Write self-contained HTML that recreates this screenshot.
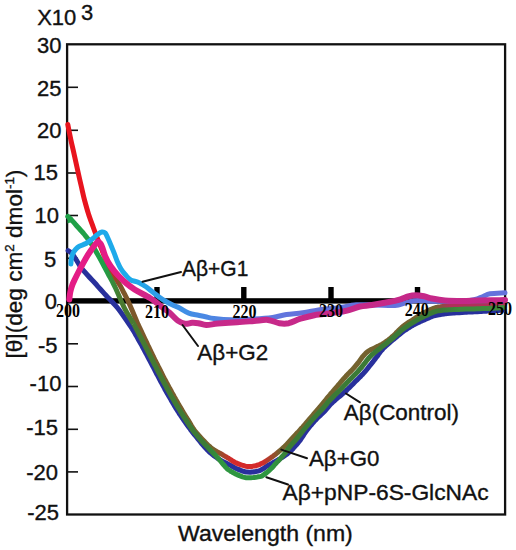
<!DOCTYPE html>
<html><head><meta charset="utf-8"><style>
html,body{margin:0;padding:0;background:#fff;}
svg{display:block;}
.yl{font-family:"Liberation Sans",sans-serif;font-size:22px;fill:#111;stroke:#111;stroke-width:0.35px;}
.xl{font-family:"Liberation Serif",serif;font-weight:bold;font-size:19.5px;fill:#000;}
.lab{font-family:"Liberation Sans",sans-serif;font-size:22px;fill:#111;stroke:#111;stroke-width:0.35px;}
</style></head><body>
<svg width="516" height="550" viewBox="0 0 516 550">
<defs>
<linearGradient id="gr" gradientUnits="userSpaceOnUse" x1="60" y1="0" x2="510" y2="0">
<stop offset="0.1022" stop-color="#e8141e"/><stop offset="0.1333" stop-color="#7e562a"/><stop offset="0.3422" stop-color="#74622e"/><stop offset="0.3822" stop-color="#d42a2a"/><stop offset="0.4489" stop-color="#d42a2a"/><stop offset="0.4889" stop-color="#74622e"/><stop offset="0.8333" stop-color="#74622e"/><stop offset="0.8667" stop-color="#b0305a"/>
</linearGradient>
<linearGradient id="gg" gradientUnits="userSpaceOnUse" x1="60" y1="0" x2="510" y2="0">
<stop offset="0.0978" stop-color="#1fa047"/><stop offset="0.1333" stop-color="#4a7a30"/><stop offset="0.3222" stop-color="#3b7b36"/><stop offset="0.3600" stop-color="#2e9640"/><stop offset="0.4711" stop-color="#2e9640"/><stop offset="0.5111" stop-color="#3b7b36"/><stop offset="0.8444" stop-color="#3b7b36"/><stop offset="0.8889" stop-color="#3f8a3c"/>
</linearGradient>
<linearGradient id="gc" gradientUnits="userSpaceOnUse" x1="60" y1="0" x2="510" y2="0">
<stop offset="0.1667" stop-color="#1eaaea"/><stop offset="0.2556" stop-color="#3c92e6"/><stop offset="0.4000" stop-color="#5a7ce0"/><stop offset="0.5333" stop-color="#6472dc"/><stop offset="0.9889" stop-color="#6472dc"/>
</linearGradient>
<linearGradient id="gm" gradientUnits="userSpaceOnUse" x1="60" y1="0" x2="510" y2="0">
<stop offset="0.1333" stop-color="#e41c86"/><stop offset="0.2222" stop-color="#c82a8a"/><stop offset="0.9889" stop-color="#c42888"/>
</linearGradient>
</defs>
<rect width="516" height="550" fill="#fff"/>
<text x="37.2" y="25" class="lab">X10</text>
<text x="81" y="19.5" class="lab">3</text>
<text x="61.4" y="52.7" text-anchor="end" class="yl">30</text>
<text x="61.4" y="95.6" text-anchor="end" class="yl">25</text>
<text x="61.4" y="138.1" text-anchor="end" class="yl">20</text>
<text x="58" y="180.1" text-anchor="end" class="yl">15</text>
<text x="59.1" y="223.4" text-anchor="end" class="yl">10</text>
<text x="56.2" y="266.8" text-anchor="end" class="yl">5</text>
<text x="57" y="309.3" text-anchor="end" class="yl">0</text>
<text x="57.5" y="352.6" text-anchor="end" class="yl">-5</text>
<text x="61.4" y="391.1" text-anchor="end" class="yl">-10</text>
<text x="58" y="434.8" text-anchor="end" class="yl">-15</text>
<text x="58" y="479.6" text-anchor="end" class="yl">-20</text>
<text x="59" y="519.5" text-anchor="end" class="yl">-25</text>

<rect x="67.1" y="44.3" width="438" height="470.2" fill="none" stroke="#111" stroke-width="2.3"/>
<line x1="67" y1="87.3" x2="78" y2="87.3" stroke="#111" stroke-width="1.6"/>
<line x1="67" y1="130.3" x2="78" y2="130.3" stroke="#111" stroke-width="1.6"/>
<line x1="67" y1="173.0" x2="78" y2="173.0" stroke="#111" stroke-width="1.6"/>
<line x1="67" y1="215.5" x2="78" y2="215.5" stroke="#111" stroke-width="1.6"/>
<line x1="67" y1="258.3" x2="78" y2="258.3" stroke="#111" stroke-width="1.6"/>
<line x1="67" y1="343.8" x2="78" y2="343.8" stroke="#111" stroke-width="1.6"/>
<line x1="67" y1="386.5" x2="78" y2="386.5" stroke="#111" stroke-width="1.6"/>
<line x1="67" y1="429.3" x2="78" y2="429.3" stroke="#111" stroke-width="1.6"/>
<line x1="67" y1="471.9" x2="78" y2="471.9" stroke="#111" stroke-width="1.6"/>

<rect x="67" y="298.2" width="438" height="5.4" fill="#000"/>
<rect x="154.3" y="287" width="5.4" height="12" fill="#000"/>
<rect x="241.1" y="287" width="5.4" height="12" fill="#000"/>
<rect x="328.3" y="287" width="5.4" height="12" fill="#000"/>
<rect x="414.8" y="287" width="5.4" height="12" fill="#000"/>

<path d="M68.1,250.6 C68.7,251.0 70.1,251.4 71.5,253.0 C72.9,254.6 74.7,257.5 76.3,259.9 C77.9,262.3 79.0,264.9 80.9,267.5 C82.8,270.1 85.6,272.9 87.9,275.5 C90.2,278.1 92.9,280.8 94.9,283.0 C96.9,285.2 98.1,286.7 100.0,288.8 C101.9,290.9 104.2,293.4 106.3,295.7 C108.4,298.0 110.6,300.2 112.7,302.5 C114.8,304.8 116.1,305.8 119.0,309.7 C121.9,313.6 128.3,322.9 130.4,326.0 C132.5,329.0 131.1,327.0 131.5,327.8 C131.9,328.5 132.5,329.5 133.1,330.3 C133.6,331.2 134.1,332.0 134.6,332.9 C135.1,333.8 135.6,334.6 136.1,335.5 C136.6,336.3 137.1,337.2 137.6,338.1 C138.1,338.9 138.6,339.8 139.0,340.7 C139.5,341.6 140.0,342.4 140.5,343.3 C141.0,344.2 141.5,345.1 142.0,345.9 C142.4,346.8 142.9,347.7 143.4,348.6 C143.9,349.4 144.3,350.3 144.8,351.2 C145.3,352.1 145.8,353.0 146.2,353.8 C146.7,354.7 147.2,355.6 147.6,356.5 C148.1,357.4 148.6,358.3 149.0,359.2 C149.5,360.0 150.0,360.9 150.4,361.8 C150.9,362.7 151.3,363.6 151.8,364.5 C152.3,365.4 152.7,366.2 153.2,367.1 C153.7,368.0 154.1,368.9 154.6,369.8 C155.0,370.7 155.5,371.6 156.0,372.5 C156.4,373.4 156.9,374.2 157.4,375.1 C157.8,376.0 158.3,376.9 158.8,377.8 C159.2,378.7 159.7,379.6 160.2,380.4 C160.6,381.3 161.1,382.2 161.6,383.1 C162.1,384.0 162.5,384.9 163.0,385.8 C163.5,386.6 164.0,387.5 164.5,388.4 C164.9,389.3 165.4,390.2 165.9,391.0 C166.4,391.9 166.9,392.8 167.4,393.7 C167.9,394.5 168.4,395.4 168.9,396.3 C169.4,397.2 169.9,398.0 170.4,398.9 C170.9,399.8 171.4,400.6 171.9,401.5 C172.4,402.4 172.9,403.2 173.4,404.1 C173.9,405.0 174.5,405.8 175.0,406.7 C175.5,407.5 176.0,408.4 176.6,409.2 C177.1,410.1 177.6,410.9 178.2,411.8 C178.7,412.6 179.3,413.5 179.8,414.3 C180.4,415.2 180.9,416.0 181.5,416.8 C182.0,417.7 182.6,418.5 183.2,419.3 C183.7,420.2 184.3,421.0 184.9,421.8 C185.4,422.6 186.0,423.5 186.6,424.3 C187.2,425.1 187.8,425.9 188.4,426.7 C189.0,427.5 189.6,428.3 190.2,429.1 C190.8,430.0 191.4,430.8 192.0,431.6 C192.7,432.4 193.3,433.2 193.9,434.0 C194.5,434.7 195.2,435.5 195.8,436.3 C196.4,437.1 197.1,437.9 197.7,438.7 C198.3,439.5 199.0,440.2 199.6,441.0 C200.2,441.8 200.9,442.6 201.5,443.4 C202.2,444.1 202.8,444.9 203.5,445.7 C204.2,446.4 204.8,447.2 205.5,447.9 C206.2,448.7 206.9,449.5 207.6,450.2 C208.3,451.0 209.1,451.7 209.8,452.4 C210.6,453.1 211.4,453.7 212.2,454.4 C212.9,455.0 213.8,455.6 214.6,456.2 C215.4,456.8 216.2,457.4 217.1,457.9 C217.9,458.5 218.8,459.0 219.6,459.6 C220.5,460.1 221.3,460.6 222.2,461.1 C223.1,461.6 224.0,462.1 224.9,462.5 C225.8,463.0 226.7,463.5 227.6,463.9 C228.5,464.4 229.5,464.8 230.3,465.3 C231.2,465.7 232.0,466.3 232.9,466.8 C233.8,467.3 234.7,467.7 235.6,468.2 C236.5,468.6 237.4,469.0 238.3,469.4 C239.2,469.8 240.2,470.2 241.1,470.5 C242.0,470.9 243.0,471.2 243.9,471.5 C244.9,471.7 245.9,472.0 246.9,472.1 C247.9,472.2 248.9,472.2 249.9,472.2 C250.9,472.2 251.9,472.0 252.9,471.9 C253.9,471.8 254.8,471.6 255.8,471.5 C256.8,471.3 257.9,471.2 258.8,470.9 C259.8,470.6 260.7,470.1 261.5,469.6 C262.4,469.1 263.3,468.6 264.1,468.1 C265.0,467.5 265.8,466.9 266.6,466.4 C267.4,465.8 268.3,465.3 269.2,464.8 C270.0,464.3 271.0,463.9 271.9,463.4 C272.8,462.9 273.7,462.4 274.5,461.9 C275.4,461.4 276.3,460.9 277.2,460.4 C278.1,459.9 279.0,459.4 279.8,458.9 C280.7,458.3 281.6,457.8 282.4,457.2 C283.3,456.7 284.2,456.1 285.0,455.5 C285.9,454.9 286.8,454.3 287.6,453.7 C288.4,453.0 289.2,452.3 289.9,451.6 C290.7,450.9 291.5,450.2 292.2,449.5 C292.9,448.8 293.5,448.0 294.2,447.2 C294.9,446.5 295.5,445.7 296.2,445.0 C296.9,444.2 297.6,443.5 298.2,442.7 C298.9,441.9 299.6,441.1 300.2,440.3 C300.8,439.4 301.3,438.6 301.9,437.7 C302.4,436.9 302.9,436.0 303.5,435.2 C304.0,434.3 304.6,433.5 305.1,432.7 C305.7,431.9 306.3,431.1 306.9,430.3 C307.5,429.5 308.1,428.7 308.7,427.9 C309.3,427.2 310.0,426.4 310.6,425.6 C311.3,424.9 311.9,424.1 312.5,423.4 C313.2,422.6 313.8,421.9 314.5,421.1 C315.2,420.4 315.9,419.7 316.5,419.0 C317.2,418.3 317.9,417.5 318.6,416.9 C319.3,416.2 320.0,415.5 320.8,414.9 C321.5,414.2 322.3,413.6 323.1,412.8 C323.8,412.1 324.6,411.4 325.2,410.6 C325.9,409.8 326.6,409.0 327.2,408.2 C327.9,407.5 328.5,406.7 329.1,405.9 C329.8,405.2 330.4,404.5 331.1,403.8 C331.8,403.1 332.5,402.5 333.2,401.8 C334.0,401.2 334.7,400.5 335.4,399.9 C336.2,399.2 336.9,398.6 337.7,397.9 C338.4,397.3 339.2,396.7 340.0,396.0 C340.7,395.4 341.5,394.8 342.3,394.1 C343.1,393.4 343.9,392.8 344.6,392.1 C345.4,391.4 346.1,390.7 346.9,390.0 C347.6,389.3 348.3,388.6 349.1,387.9 C349.8,387.2 350.5,386.5 351.2,385.8 C351.9,385.1 352.6,384.4 353.3,383.7 C354.0,383.0 354.6,382.3 355.3,381.6 C356.0,380.9 356.7,380.2 357.5,379.5 C358.2,378.8 358.9,378.1 359.7,377.3 C360.4,376.6 361.1,375.8 361.8,375.1 C362.5,374.3 363.2,373.6 363.9,372.8 C364.6,372.0 365.4,371.2 366.0,370.4 C366.7,369.7 367.4,368.8 368.0,368.0 C368.7,367.2 369.3,366.4 369.9,365.6 C370.5,364.9 371.1,364.1 371.7,363.4 C372.3,362.6 372.9,361.9 373.4,361.2 C374.0,360.5 374.6,359.7 375.1,359.0 C375.7,358.3 376.3,357.6 376.8,356.8 C377.4,356.1 377.9,355.3 378.4,354.6 C379.0,353.8 379.5,353.0 380.1,352.2 C380.7,351.5 381.3,350.7 382.0,350.0 C382.7,349.2 383.3,348.4 384.1,347.7 C384.8,346.9 385.6,346.3 386.3,345.6 C387.1,344.9 387.9,344.2 388.6,343.6 C389.4,342.9 390.2,342.3 390.9,341.6 C391.7,341.0 392.5,340.3 393.2,339.7 C394.0,339.0 394.8,338.4 395.6,337.7 C396.4,337.1 397.1,336.4 397.9,335.8 C398.7,335.2 399.4,334.5 400.2,333.9 C400.9,333.2 401.7,332.6 402.5,332.0 C403.2,331.4 404.0,330.9 404.8,330.3 C405.7,329.8 406.5,329.3 407.3,328.7 C408.1,328.2 408.9,327.7 409.8,327.2 C410.6,326.7 411.5,326.2 412.3,325.7 C413.2,325.2 414.0,324.7 414.9,324.2 C415.8,323.8 416.6,323.3 417.5,322.9 C418.4,322.4 419.3,322.0 420.2,321.6 C421.0,321.2 421.9,320.8 422.8,320.4 C423.7,320.0 424.6,319.6 425.5,319.3 C426.4,318.9 427.4,318.5 428.3,318.2 C429.2,317.8 430.1,317.3 431.0,317.0 C431.8,316.6 432.7,316.3 433.6,316.0 C434.5,315.7 435.4,315.4 436.2,315.2 C437.1,315.0 438.0,314.8 438.9,314.7 C439.7,314.5 440.6,314.4 441.6,314.2 C442.5,314.1 443.4,314.0 444.4,313.9 C445.3,313.7 446.3,313.6 447.3,313.5 C448.2,313.4 449.2,313.3 450.2,313.3 C451.2,313.2 452.2,313.1 453.2,313.0 C454.1,313.0 455.1,312.9 456.1,312.8 C457.1,312.8 458.1,312.7 459.1,312.7 C460.1,312.6 461.1,312.5 462.1,312.5 C463.1,312.4 464.1,312.3 465.1,312.3 C466.1,312.2 467.1,312.2 468.1,312.1 C469.1,312.1 470.1,312.0 471.1,312.0 C472.1,311.9 473.1,311.9 474.1,311.8 C475.1,311.8 476.1,311.7 477.1,311.7 C478.1,311.6 479.1,311.5 480.1,311.5 C481.1,311.4 482.1,311.4 483.1,311.3 C484.1,311.3 485.1,311.2 486.1,311.2 C487.1,311.1 488.1,311.1 489.1,311.0 C490.1,311.0 491.1,310.9 492.1,310.9 C493.1,310.8 494.1,310.8 495.1,310.7 C496.1,310.6 497.1,310.6 498.1,310.5 C499.1,310.4 500.3,310.3 501.1,310.3 C502.0,310.2 502.9,310.1 503.3,310.1" fill="none" stroke="#28309c" stroke-width="5.0" stroke-linecap="round" stroke-linejoin="round" />
<path d="M67.8,124.5 C68.3,127.1 69.8,134.9 70.9,140.0 C72.0,145.1 73.2,150.0 74.3,155.0 C75.4,160.0 76.5,165.0 77.6,170.0 C78.7,175.0 79.8,180.0 81.0,185.0 C82.2,190.0 83.2,195.2 84.5,200.0 C85.8,204.8 87.0,209.3 88.5,214.0 C90.0,218.7 91.8,223.3 93.5,228.0 C95.2,232.7 97.1,237.7 98.8,242.0 C100.5,246.3 101.9,250.1 103.5,254.0 C105.1,257.9 106.8,261.8 108.5,265.5 C110.2,269.2 112.1,272.8 114.0,276.0 C115.9,279.2 118.1,282.2 119.8,285.0 C121.5,287.8 122.6,290.3 124.0,293.0 C125.4,295.7 126.7,298.2 128.0,301.0 C129.3,303.8 130.5,306.4 132.0,310.0 C133.5,313.6 136.1,319.9 137.1,322.3 C138.1,324.7 137.7,323.5 138.0,324.3 C138.4,325.0 138.9,326.1 139.3,327.0 C139.7,327.9 140.2,328.8 140.6,329.7 C141.0,330.6 141.5,331.6 141.9,332.5 C142.3,333.4 142.7,334.3 143.2,335.2 C143.6,336.1 144.0,337.0 144.4,337.9 C144.9,338.8 145.3,339.7 145.7,340.6 C146.1,341.5 146.6,342.4 147.0,343.3 C147.4,344.3 147.9,345.2 148.3,346.1 C148.7,347.0 149.2,347.9 149.6,348.8 C150.0,349.7 150.5,350.6 150.9,351.5 C151.3,352.4 151.8,353.3 152.2,354.2 C152.6,355.1 153.1,356.0 153.5,356.9 C154.0,357.8 154.4,358.7 154.8,359.6 C155.3,360.5 155.7,361.4 156.2,362.2 C156.6,363.1 157.1,364.0 157.5,364.9 C158.0,365.8 158.4,366.7 158.9,367.6 C159.3,368.5 159.8,369.4 160.2,370.3 C160.7,371.2 161.1,372.1 161.6,372.9 C162.0,373.8 162.5,374.7 162.9,375.6 C163.4,376.5 163.9,377.4 164.3,378.3 C164.8,379.1 165.2,380.0 165.7,380.9 C166.2,381.8 166.6,382.7 167.1,383.6 C167.6,384.4 168.0,385.3 168.5,386.2 C169.0,387.1 169.5,387.9 169.9,388.8 C170.4,389.7 170.9,390.6 171.4,391.4 C171.8,392.3 172.3,393.2 172.8,394.1 C173.3,394.9 173.8,395.8 174.3,396.7 C174.8,397.5 175.2,398.4 175.7,399.3 C176.2,400.1 176.7,401.0 177.2,401.9 C177.7,402.7 178.2,403.6 178.7,404.4 C179.2,405.3 179.7,406.2 180.2,407.0 C180.7,407.9 181.2,408.7 181.7,409.6 C182.2,410.4 182.8,411.3 183.3,412.2 C183.8,413.0 184.3,413.9 184.8,414.7 C185.3,415.6 185.8,416.4 186.4,417.3 C186.9,418.1 187.4,419.0 187.9,419.8 C188.5,420.6 189.0,421.5 189.5,422.3 C190.0,423.2 190.5,424.1 191.0,424.9 C191.5,425.8 192.0,426.6 192.6,427.5 C193.1,428.3 193.7,429.1 194.2,429.9 C194.8,430.7 195.4,431.5 196.1,432.2 C196.7,433.0 197.4,433.7 198.0,434.5 C198.7,435.2 199.3,436.0 200.0,436.7 C200.7,437.4 201.3,438.2 202.0,438.9 C202.7,439.6 203.4,440.3 204.1,441.1 C204.8,441.8 205.4,442.5 206.1,443.2 C206.8,443.9 207.5,444.6 208.2,445.3 C208.9,445.9 209.7,446.6 210.4,447.2 C211.2,447.8 211.9,448.4 212.7,449.0 C213.5,449.6 214.4,450.0 215.2,450.6 C216.1,451.1 216.9,451.6 217.8,452.1 C218.6,452.6 219.5,453.0 220.4,453.5 C221.3,454.0 222.2,454.5 223.0,455.1 C223.9,455.6 224.8,456.1 225.7,456.6 C226.5,457.1 227.4,457.6 228.2,458.1 C229.0,458.7 229.8,459.2 230.6,459.7 C231.4,460.2 232.2,460.8 232.9,461.2 C233.7,461.7 234.5,462.1 235.3,462.5 C236.2,462.9 237.0,463.3 237.8,463.6 C238.7,464.0 239.5,464.3 240.4,464.6 C241.2,464.9 242.1,465.2 242.9,465.4 C243.7,465.7 244.5,465.9 245.3,466.1 C246.1,466.3 246.8,466.4 247.5,466.5 C248.3,466.5 249.0,466.6 249.8,466.5 C250.5,466.5 251.3,466.5 252.1,466.4 C252.9,466.3 253.7,466.1 254.5,465.9 C255.3,465.8 256.1,465.6 256.9,465.3 C257.7,465.1 258.4,464.9 259.2,464.6 C259.9,464.3 260.7,464.0 261.5,463.6 C262.3,463.2 263.1,462.8 263.9,462.3 C264.7,461.8 265.5,461.3 266.3,460.8 C267.1,460.3 267.9,459.7 268.8,459.2 C269.6,458.7 270.4,458.1 271.2,457.5 C272.0,456.9 272.8,456.4 273.5,455.8 C274.3,455.2 275.1,454.6 275.9,454.0 C276.6,453.4 277.4,452.8 278.1,452.2 C278.9,451.6 279.6,450.9 280.3,450.3 C281.0,449.7 281.7,449.1 282.4,448.4 C283.2,447.8 283.9,447.2 284.6,446.5 C285.2,445.8 285.9,445.1 286.6,444.4 C287.3,443.7 288.0,443.0 288.6,442.2 C289.3,441.5 290.0,440.8 290.6,440.0 C291.3,439.3 292.0,438.6 292.6,437.9 C293.3,437.1 293.9,436.4 294.6,435.7 C295.3,435.0 295.9,434.3 296.6,433.6 C297.3,432.9 298.0,432.1 298.7,431.4 C299.3,430.6 300.0,429.9 300.7,429.1 C301.4,428.4 302.1,427.6 302.8,426.9 C303.5,426.1 304.1,425.4 304.8,424.6 C305.4,423.9 306.1,423.1 306.7,422.3 C307.4,421.6 308.0,420.8 308.7,420.0 C309.3,419.3 310.0,418.5 310.7,417.7 C311.3,417.0 312.0,416.2 312.6,415.4 C313.3,414.7 314.0,413.9 314.6,413.1 C315.3,412.4 316.0,411.6 316.6,410.8 C317.3,410.1 317.9,409.3 318.6,408.6 C319.2,407.8 319.8,407.1 320.4,406.4 C321.1,405.6 321.7,404.9 322.3,404.1 C322.9,403.4 323.6,402.6 324.2,401.8 C324.8,401.0 325.5,400.2 326.1,399.4 C326.7,398.6 327.4,397.8 328.1,397.0 C328.7,396.2 329.4,395.4 330.1,394.6 C330.7,393.8 331.4,393.1 332.1,392.3 C332.7,391.5 333.4,390.8 334.0,390.0 C334.7,389.3 335.3,388.5 336.0,387.8 C336.6,387.0 337.3,386.3 337.9,385.5 C338.5,384.8 339.2,384.0 339.8,383.3 C340.4,382.5 341.1,381.8 341.7,381.0 C342.4,380.2 343.0,379.5 343.7,378.7 C344.3,377.9 345.0,377.1 345.7,376.4 C346.4,375.6 347.1,374.9 347.8,374.2 C348.6,373.5 349.3,372.8 350.0,372.1 C350.7,371.4 351.3,370.7 352.0,370.0 C352.7,369.3 353.3,368.6 353.9,367.9 C354.6,367.2 355.2,366.4 355.8,365.7 C356.4,365.0 357.0,364.2 357.6,363.5 C358.2,362.7 358.8,362.0 359.4,361.2 C359.9,360.4 360.5,359.6 361.1,358.8 C361.7,358.0 362.3,357.1 362.9,356.3 C363.6,355.5 364.3,354.7 365.1,353.9 C365.8,353.1 366.6,352.4 367.5,351.7 C368.3,351.1 369.3,350.5 370.3,350.0 C371.3,349.4 372.4,349.0 373.4,348.5 C374.3,348.0 375.3,347.6 376.3,347.1 C377.2,346.6 378.2,346.2 379.1,345.8 C380.0,345.3 380.9,344.9 381.8,344.4 C382.6,343.9 383.5,343.4 384.3,342.8 C385.1,342.3 385.9,341.7 386.7,341.1 C387.5,340.5 388.3,339.9 389.0,339.3 C389.8,338.7 390.6,338.1 391.3,337.4 C392.1,336.8 392.8,336.1 393.6,335.5 C394.3,334.8 395.0,334.1 395.7,333.4 C396.4,332.7 397.1,331.9 397.8,331.2 C398.5,330.5 399.3,329.8 400.0,329.1 C400.8,328.4 401.5,327.7 402.3,327.0 C403.1,326.4 403.9,325.7 404.7,325.1 C405.6,324.5 406.4,323.9 407.2,323.3 C408.1,322.7 408.9,322.2 409.8,321.6 C410.6,321.1 411.5,320.5 412.3,320.0 C413.2,319.4 414.0,318.8 414.8,318.3 C415.7,317.7 416.6,317.1 417.4,316.6 C418.3,316.0 419.2,315.5 420.1,315.0 C421.0,314.5 421.8,313.9 422.7,313.4 C423.6,313.0 424.5,312.5 425.4,312.0 C426.4,311.6 427.3,311.1 428.2,310.7 C429.1,310.2 430.1,309.8 431.1,309.3 C432.1,308.9 433.1,308.5 434.1,308.1 C435.1,307.8 436.2,307.4 437.3,307.2 C438.3,306.9 439.4,306.8 440.5,306.7 C441.6,306.5 442.6,306.5 443.7,306.4 C444.7,306.4 445.7,306.3 446.8,306.3 C447.8,306.3 448.8,306.2 449.8,306.2 C450.8,306.2 451.8,306.2 452.8,306.1 C453.9,306.1 454.9,306.1 455.9,306.1 C456.9,306.1 457.9,306.1 458.9,306.1 C459.9,306.0 460.9,306.0 461.9,306.0 C462.9,306.0 463.9,306.0 464.9,306.0 C465.9,306.0 466.9,306.0 467.9,306.0 C468.9,306.0 469.9,306.0 470.9,306.0 C471.9,306.0 472.9,306.0 473.9,306.0 C474.9,306.0 475.9,306.0 476.9,306.0 C477.9,306.0 478.9,306.0 479.9,306.0 C480.9,306.0 481.9,306.0 482.9,305.9 C483.9,305.9 484.9,305.9 485.9,305.8 C486.9,305.8 487.9,305.8 488.9,305.7 C489.9,305.7 490.9,305.7 491.9,305.6 C492.8,305.6 493.8,305.5 494.8,305.5 C495.8,305.5 496.8,305.4 497.8,305.4 C498.8,305.3 500.0,305.3 500.8,305.2 C501.7,305.2 502.6,305.1 502.9,305.1" fill="none" stroke="url(#gr)" stroke-width="5.0" stroke-linecap="round" stroke-linejoin="round" />
<path d="M67.8,216.5 C68.5,217.2 70.6,219.1 72.0,220.5 C73.4,221.9 74.7,223.5 76.0,225.0 C77.3,226.5 78.7,228.0 80.0,229.5 C81.3,231.0 82.7,232.4 84.0,234.0 C85.3,235.6 86.7,237.2 88.0,239.0 C89.3,240.8 90.7,242.9 92.0,245.0 C93.3,247.1 94.7,249.2 96.0,251.5 C97.3,253.8 98.7,256.1 100.0,258.5 C101.3,260.9 102.7,263.5 104.0,266.0 C105.3,268.5 106.7,271.0 108.0,273.5 C109.3,276.0 110.8,278.6 112.0,281.0 C113.2,283.4 114.3,285.5 115.5,288.0 C116.7,290.5 117.8,293.3 119.0,296.0 C120.2,298.7 121.3,301.5 122.5,304.0 C123.7,306.5 124.1,307.6 126.0,311.0 C127.9,314.4 132.3,321.6 133.8,324.1 C135.2,326.6 134.4,325.3 134.8,326.0 C135.2,326.8 135.7,327.8 136.2,328.7 C136.7,329.5 137.1,330.4 137.6,331.3 C138.1,332.2 138.5,333.1 139.0,334.0 C139.4,334.9 139.9,335.7 140.4,336.6 C140.8,337.5 141.3,338.4 141.7,339.3 C142.2,340.2 142.7,341.1 143.1,342.0 C143.6,342.9 144.0,343.7 144.5,344.6 C144.9,345.5 145.4,346.4 145.8,347.3 C146.3,348.2 146.8,349.1 147.2,350.0 C147.7,350.9 148.1,351.8 148.6,352.7 C149.0,353.5 149.5,354.4 149.9,355.3 C150.4,356.2 150.8,357.1 151.3,358.0 C151.7,358.9 152.2,359.8 152.6,360.7 C153.1,361.6 153.5,362.5 154.0,363.4 C154.4,364.3 154.9,365.1 155.4,366.0 C155.8,366.9 156.3,367.8 156.7,368.7 C157.2,369.6 157.6,370.5 158.1,371.4 C158.5,372.3 159.0,373.1 159.5,374.0 C159.9,374.9 160.4,375.8 160.9,376.7 C161.3,377.6 161.8,378.5 162.2,379.4 C162.7,380.2 163.2,381.1 163.6,382.0 C164.1,382.9 164.6,383.8 165.1,384.7 C165.5,385.5 166.0,386.4 166.5,387.3 C167.0,388.2 167.4,389.1 167.9,389.9 C168.4,390.8 168.9,391.7 169.4,392.6 C169.9,393.4 170.3,394.3 170.8,395.2 C171.3,396.0 171.8,396.9 172.3,397.8 C172.8,398.7 173.3,399.5 173.8,400.4 C174.3,401.2 174.8,402.1 175.3,403.0 C175.8,403.8 176.3,404.7 176.8,405.6 C177.4,406.4 177.9,407.3 178.4,408.1 C178.9,409.0 179.4,409.8 180.0,410.7 C180.5,411.5 181.0,412.4 181.5,413.2 C182.1,414.1 182.6,414.9 183.1,415.8 C183.7,416.6 184.2,417.5 184.8,418.3 C185.3,419.1 185.9,420.0 186.4,420.8 C187.0,421.6 187.5,422.5 188.1,423.3 C188.6,424.1 189.2,425.0 189.7,425.8 C190.3,426.7 190.8,427.5 191.4,428.3 C192.0,429.1 192.5,429.9 193.1,430.7 C193.7,431.5 194.4,432.3 195.0,433.1 C195.6,433.9 196.3,434.6 196.9,435.4 C197.5,436.2 198.2,436.9 198.8,437.7 C199.5,438.5 200.2,439.2 200.8,440.0 C201.5,440.7 202.1,441.5 202.8,442.2 C203.5,443.0 204.1,443.7 204.8,444.4 C205.5,445.2 206.2,445.9 206.9,446.6 C207.6,447.3 208.3,448.0 209.0,448.7 C209.7,449.4 210.4,450.1 211.1,450.9 C211.8,451.6 212.5,452.3 213.2,453.0 C213.9,453.8 214.6,454.5 215.3,455.2 C216.0,456.0 216.7,456.7 217.4,457.5 C218.1,458.2 218.8,459.0 219.4,459.8 C220.1,460.6 220.7,461.3 221.4,462.1 C222.1,462.9 222.7,463.7 223.4,464.5 C224.1,465.3 224.7,466.1 225.4,466.9 C226.2,467.7 226.9,468.6 227.7,469.3 C228.6,470.0 229.6,470.5 230.5,471.1 C231.4,471.7 232.4,472.2 233.3,472.8 C234.3,473.3 235.2,473.8 236.2,474.3 C237.2,474.8 238.2,475.2 239.3,475.6 C240.3,476.1 241.4,476.5 242.6,476.9 C243.7,477.2 245.0,477.5 246.2,477.7 C247.4,477.9 248.7,477.9 250.0,477.8 C251.2,477.8 252.4,477.6 253.6,477.5 C254.8,477.3 255.9,477.1 257.1,477.0 C258.3,476.8 259.6,476.9 260.8,476.5 C261.9,476.1 262.9,475.3 263.9,474.6 C264.9,473.9 265.9,473.2 266.8,472.5 C267.7,471.8 268.5,471.1 269.3,470.4 C270.1,469.7 270.9,469.0 271.6,468.2 C272.4,467.5 273.0,466.6 273.7,465.9 C274.4,465.1 275.1,464.3 275.8,463.6 C276.5,462.8 277.2,462.0 277.9,461.3 C278.6,460.5 279.3,459.8 280.0,459.0 C280.6,458.2 281.3,457.5 282.0,456.7 C282.7,455.9 283.3,455.1 284.0,454.4 C284.7,453.6 285.3,452.8 285.9,452.0 C286.6,451.2 287.2,450.4 287.8,449.5 C288.3,448.7 288.9,447.9 289.5,447.1 C290.1,446.3 290.8,445.5 291.4,444.7 C292.1,444.0 292.8,443.3 293.4,442.5 C294.1,441.8 294.8,441.0 295.4,440.3 C296.1,439.5 296.7,438.8 297.4,438.0 C298.0,437.2 298.6,436.4 299.2,435.6 C299.8,434.9 300.5,434.1 301.1,433.3 C301.7,432.5 302.3,431.7 302.9,430.9 C303.6,430.1 304.2,429.4 304.8,428.6 C305.5,427.8 306.1,427.1 306.7,426.3 C307.4,425.5 308.0,424.8 308.7,424.0 C309.3,423.2 310.0,422.5 310.6,421.7 C311.3,420.9 311.9,420.2 312.6,419.4 C313.2,418.7 313.9,417.9 314.6,417.2 C315.3,416.5 315.9,415.7 316.6,415.0 C317.3,414.3 318.0,413.6 318.7,412.8 C319.4,412.1 320.1,411.4 320.8,410.7 C321.5,410.0 322.2,409.2 322.8,408.5 C323.5,407.7 324.1,407.0 324.8,406.2 C325.4,405.4 326.0,404.6 326.7,403.9 C327.3,403.1 327.9,402.3 328.6,401.6 C329.3,400.8 330.0,400.1 330.6,399.4 C331.3,398.7 332.0,398.0 332.8,397.3 C333.5,396.5 334.2,395.8 334.9,395.1 C335.6,394.4 336.3,393.7 337.0,393.0 C337.7,392.3 338.4,391.6 339.1,390.9 C339.9,390.2 340.6,389.5 341.3,388.8 C342.0,388.1 342.6,387.4 343.3,386.6 C344.0,385.9 344.7,385.2 345.4,384.4 C346.1,383.7 346.8,383.0 347.4,382.2 C348.1,381.5 348.8,380.8 349.5,380.0 C350.2,379.3 350.9,378.6 351.6,377.9 C352.3,377.2 353.0,376.5 353.7,375.8 C354.4,375.1 355.1,374.4 355.8,373.7 C356.5,373.0 357.2,372.2 357.9,371.5 C358.5,370.7 359.2,370.0 359.9,369.2 C360.5,368.5 361.2,367.7 361.8,367.0 C362.5,366.2 363.1,365.4 363.7,364.6 C364.3,363.8 364.9,363.0 365.5,362.2 C366.1,361.4 366.7,360.6 367.3,359.8 C367.9,359.1 368.6,358.3 369.2,357.5 C369.9,356.8 370.6,356.1 371.3,355.4 C372.0,354.7 372.8,354.0 373.6,353.4 C374.3,352.8 375.1,352.2 375.9,351.5 C376.7,350.9 377.4,350.3 378.2,349.7 C379.0,349.1 379.8,348.5 380.6,347.9 C381.4,347.3 382.1,346.6 382.9,346.0 C383.7,345.4 384.5,344.8 385.3,344.2 C386.1,343.6 386.9,343.0 387.7,342.3 C388.4,341.7 389.2,341.1 390.0,340.5 C390.8,339.8 391.5,339.2 392.3,338.5 C393.1,337.9 393.8,337.3 394.6,336.6 C395.3,335.9 396.1,335.3 396.8,334.6 C397.5,333.9 398.3,333.2 399.0,332.5 C399.7,331.9 400.5,331.2 401.2,330.5 C402.0,329.9 402.8,329.3 403.6,328.7 C404.4,328.1 405.2,327.5 406.0,326.9 C406.8,326.3 407.7,325.8 408.5,325.2 C409.3,324.7 410.2,324.2 411.0,323.7 C411.9,323.1 412.8,322.6 413.6,322.1 C414.5,321.6 415.3,321.1 416.2,320.6 C417.0,320.0 417.9,319.6 418.8,319.1 C419.7,318.6 420.6,318.1 421.5,317.7 C422.3,317.2 423.2,316.8 424.1,316.4 C425.0,315.9 426.0,315.5 426.9,315.1 C427.8,314.7 428.7,314.2 429.6,313.8 C430.5,313.4 431.4,313.0 432.3,312.7 C433.3,312.3 434.2,312.0 435.2,311.7 C436.1,311.4 437.1,311.1 438.1,310.9 C439.0,310.7 440.0,310.6 441.0,310.5 C442.0,310.3 443.0,310.2 444.0,310.1 C445.0,310.1 446.0,310.0 447.0,309.9 C448.0,309.8 449.0,309.8 450.0,309.7 C451.0,309.7 452.0,309.6 453.0,309.6 C454.0,309.5 455.0,309.5 456.0,309.5 C457.0,309.4 458.0,309.4 459.0,309.4 C460.0,309.3 461.0,309.3 462.0,309.2 C463.0,309.2 464.0,309.2 465.0,309.1 C466.0,309.1 467.0,309.1 468.0,309.1 C469.0,309.0 470.0,309.0 471.0,309.0 C472.0,309.0 473.0,308.9 474.0,308.9 C475.0,308.9 476.0,308.9 477.0,308.8 C478.0,308.8 479.0,308.8 480.0,308.7 C481.0,308.7 482.0,308.7 483.0,308.6 C484.0,308.6 485.0,308.6 486.0,308.5 C487.0,308.5 488.0,308.4 489.0,308.4 C490.0,308.3 491.0,308.3 492.0,308.2 C493.0,308.2 494.0,308.1 495.0,308.1 C496.0,308.0 497.0,308.0 498.0,307.9 C499.0,307.9 500.1,307.8 501.0,307.8 C501.8,307.7 502.7,307.6 503.1,307.6" fill="none" stroke="url(#gg)" stroke-width="5.0" stroke-linecap="round" stroke-linejoin="round" />
<path d="M67.5,214.3 L72.5,217.5 L73,221.5 L67.5,223.5 Z" fill="#1fa047"/>
<path d="M70.9,264.0 C71.0,263.2 71.0,260.8 71.3,259.0 C71.6,257.2 72.1,255.1 72.8,253.5 C73.5,251.9 74.4,250.7 75.5,249.5 C76.6,248.3 77.7,247.2 79.4,246.2 C81.2,245.2 83.8,244.8 86.0,243.5 C88.2,242.2 91.0,240.0 92.9,238.5 C94.8,237.0 96.0,235.6 97.5,234.5 C99.0,233.4 100.6,232.2 101.9,232.0 C103.2,231.8 104.3,232.1 105.3,233.1 C106.3,234.1 106.7,235.7 107.7,237.8 C108.7,239.9 110.1,243.2 111.2,245.9 C112.3,248.6 113.5,251.3 114.5,254.0 C115.5,256.7 116.4,259.5 117.5,262.0 C118.6,264.5 119.7,266.8 121.0,269.0 C122.3,271.2 124.0,273.2 125.6,275.0 C127.2,276.8 128.3,278.6 130.5,279.8 C132.7,281.1 136.1,281.3 138.7,282.5 C141.3,283.7 143.8,285.3 146.0,286.8 C148.2,288.3 149.7,289.7 152.0,291.5 C154.3,293.3 157.5,295.8 159.8,297.5 C162.1,299.2 163.7,300.2 166.0,301.5 C168.3,302.8 171.4,304.4 173.7,305.5 C176.0,306.6 177.5,306.9 180.0,308.2 C182.5,309.5 185.7,312.0 188.8,313.2 C191.9,314.4 195.6,314.7 198.4,315.3 C201.2,315.9 202.9,316.3 205.5,316.8 C208.1,317.3 209.7,318.0 214.0,318.5 C218.3,319.0 225.4,319.7 231.4,319.8 C237.4,319.9 243.1,319.7 250.0,319.3 C256.9,318.9 266.5,318.2 272.6,317.4 C278.7,316.6 281.5,315.3 286.5,314.5 C291.5,313.7 297.0,313.7 302.8,312.8 C308.6,311.9 315.6,310.2 321.4,309.4 C327.2,308.6 331.9,308.8 337.7,308.0 C343.5,307.2 350.1,305.3 356.3,304.8 C362.5,304.3 368.6,304.9 375.0,305.0 C381.4,305.1 390.0,305.8 395.0,305.5 C400.0,305.2 401.8,303.8 405.0,303.0 C408.2,302.2 410.8,301.2 414.0,300.8 C417.2,300.4 420.5,300.7 424.0,300.8 C427.5,300.9 431.5,301.3 435.0,301.3 C438.5,301.3 440.0,301.1 445.0,301.0 C450.0,300.9 460.0,301.2 465.0,301.0 C470.0,300.8 472.0,300.2 475.0,299.5 C478.0,298.8 480.5,297.4 483.0,296.5 C485.5,295.6 486.3,294.4 490.0,293.8 C493.7,293.2 502.5,293.0 505.0,292.8" fill="none" stroke="url(#gc)" stroke-width="5.0" stroke-linecap="round" stroke-linejoin="round" />
<path d="M69.3,299.5 C69.5,298.2 69.8,294.4 70.3,292.0 C70.8,289.6 71.5,287.2 72.3,285.0 C73.1,282.8 73.8,281.5 75.0,279.0 C76.2,276.5 77.8,273.3 79.5,270.0 C81.2,266.7 83.7,262.2 85.5,259.0 C87.3,255.8 89.0,253.2 90.5,251.0 C92.0,248.8 93.3,247.0 94.5,245.5 C95.7,244.0 96.8,242.1 97.8,241.8 C98.8,241.5 99.7,242.5 100.5,243.5 C101.3,244.5 101.7,245.8 102.5,248.0 C103.3,250.2 104.0,253.4 105.3,256.4 C106.6,259.4 108.3,262.8 110.5,266.0 C112.7,269.2 115.5,272.6 118.2,275.5 C120.9,278.4 123.7,281.1 126.4,283.4 C129.1,285.7 131.9,287.7 134.6,289.5 C137.3,291.3 140.2,292.6 142.8,294.0 C145.4,295.4 148.0,296.8 150.0,298.0 C152.0,299.2 153.1,300.1 155.0,301.5 C156.9,302.9 159.0,304.8 161.4,306.7 C163.8,308.6 166.9,310.5 169.6,312.8 C172.3,315.1 175.2,318.8 177.8,320.6 C180.4,322.4 182.6,323.4 185.0,323.8 C187.4,324.2 189.8,322.9 192.0,322.8 C194.2,322.7 196.0,322.8 198.4,323.2 C200.8,323.6 203.0,324.9 206.2,325.0 C209.4,325.1 212.6,324.1 217.8,323.6 C223.0,323.2 231.2,322.7 237.2,322.3 C243.2,321.9 248.9,321.4 254.0,321.0 C259.1,320.6 263.6,319.5 267.9,319.9 C272.1,320.3 276.0,322.6 279.5,323.2 C283.0,323.8 285.3,323.9 288.8,323.2 C292.3,322.4 296.2,320.0 300.5,318.7 C304.8,317.4 309.0,316.2 314.4,315.2 C319.8,314.2 327.6,313.7 333.0,312.9 C338.4,312.1 342.5,311.7 347.0,310.6 C351.5,309.5 355.8,307.4 360.0,306.5 C364.2,305.6 367.2,305.8 372.0,305.0 C376.8,304.2 384.1,302.9 388.8,302.0 C393.5,301.1 397.2,300.2 400.4,299.3 C403.6,298.4 405.5,297.2 408.1,296.5 C410.7,295.8 413.4,295.3 416.0,295.3 C418.6,295.3 421.3,295.8 424.0,296.3 C426.7,296.8 428.5,297.8 432.0,298.5 C435.5,299.2 440.0,300.1 445.0,300.5 C450.0,300.9 456.5,301.0 462.0,301.0 C467.5,301.0 473.0,300.6 478.0,300.5 C483.0,300.4 487.5,300.4 492.0,300.3 C496.5,300.2 502.8,300.1 505.0,300.0" fill="none" stroke="url(#gm)" stroke-width="6" stroke-linecap="round" stroke-linejoin="round" />
<text x="56.0" y="316.5" class="xl" textLength="24" lengthAdjust="spacingAndGlyphs">200</text>
<text x="145.0" y="317.5" class="xl" textLength="24" lengthAdjust="spacingAndGlyphs">210</text>
<text x="232.6" y="317.8" class="xl" textLength="24" lengthAdjust="spacingAndGlyphs">220</text>
<text x="319.0" y="316.8" class="xl" textLength="24" lengthAdjust="spacingAndGlyphs">230</text>
<text x="404.7" y="315.8" class="xl" textLength="24" lengthAdjust="spacingAndGlyphs">240</text>
<text x="488.0" y="314.5" class="xl" textLength="24" lengthAdjust="spacingAndGlyphs">250</text>

<g stroke="#111" stroke-width="2" fill="none" stroke-linecap="round">
<line x1="142.5" y1="281.8" x2="181" y2="272"/>
<line x1="182.5" y1="325" x2="198" y2="346"/>
<line x1="346" y1="393.5" x2="360" y2="402.3"/>
<line x1="281.3" y1="449.6" x2="307" y2="458.3"/>
<line x1="266.4" y1="477.3" x2="288" y2="484.5"/>
</g>
<text x="182" y="275.8" class="lab" textLength="66.4" lengthAdjust="spacingAndGlyphs">Aβ+G1</text>
<text x="197.3" y="359.8" class="lab" textLength="70.9" lengthAdjust="spacingAndGlyphs">Aβ+G2</text>
<text x="343.8" y="420" class="lab" textLength="115.2" lengthAdjust="spacingAndGlyphs">Aβ(Control)</text>
<text x="309" y="466" class="lab" textLength="70.4" lengthAdjust="spacingAndGlyphs">Aβ+G0</text>
<text x="282.5" y="499.9" class="lab" textLength="206.1" lengthAdjust="spacingAndGlyphs">Aβ+pNP-6S-GlcNAc</text>
<text x="178" y="540.8" class="lab" textLength="174.8" lengthAdjust="spacingAndGlyphs">Wavelength (nm)</text>
<text transform="translate(22.2,358.5) rotate(-90) scale(1.028,1)" class="lab">[θ](deg cm<tspan dy="-8" style="font-size:13px">2</tspan><tspan dy="8"> dmol</tspan><tspan dy="-8" style="font-size:13px">-1</tspan><tspan dy="8">)</tspan></text>
</svg>
</body></html>
